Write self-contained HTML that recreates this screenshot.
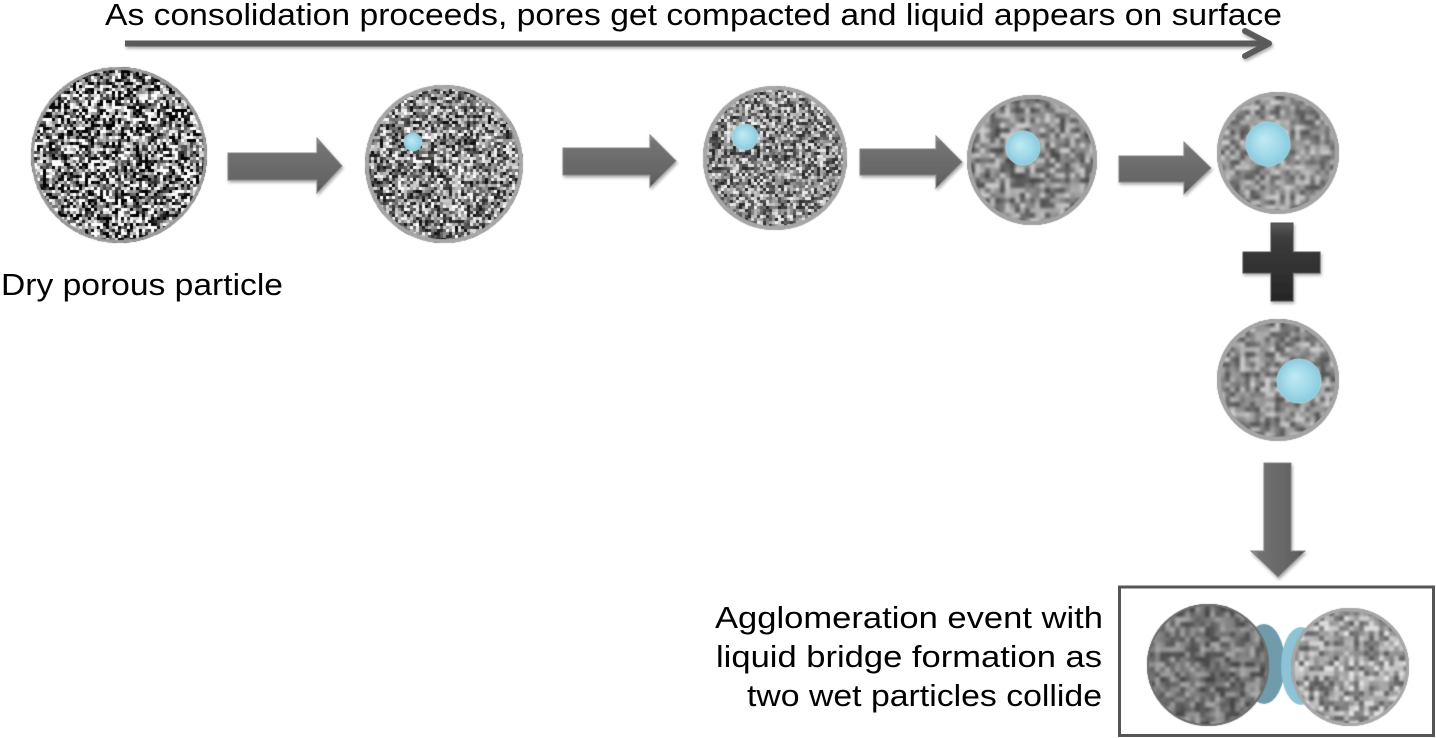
<!DOCTYPE html>
<html>
<head>
<meta charset="utf-8">
<style>
  html, body { margin:0; padding:0; background:#ffffff; }
  #wrap { position:relative; width:1436px; height:738px; overflow:hidden; background:#fff; }
  canvas, svg { position:absolute; left:0; top:0; }
  text { font-family:"Liberation Sans", Arial, sans-serif; fill:#000; }
</style>
</head>
<body>
<div id="wrap">
<canvas id="c" width="1436" height="738"></canvas>
<svg width="1436" height="738" viewBox="0 0 1436 738" xmlns="http://www.w3.org/2000/svg">
  <defs>
    <linearGradient id="ga" x1="0" y1="0" x2="0" y2="1">
      <stop offset="0" stop-color="#a2a2a2"/>
      <stop offset="0.12" stop-color="#747474"/>
      <stop offset="0.85" stop-color="#636363"/>
      <stop offset="1" stop-color="#454545"/>
    </linearGradient>
    <linearGradient id="gd" x1="0" y1="0" x2="1" y2="0">
      <stop offset="0" stop-color="#9a9a9a"/>
      <stop offset="0.15" stop-color="#727272"/>
      <stop offset="0.85" stop-color="#616161"/>
      <stop offset="1" stop-color="#444"/>
    </linearGradient>
    <linearGradient id="gp" x1="0" y1="0" x2="0" y2="1">
      <stop offset="0" stop-color="#5a5a5a"/>
      <stop offset="0.2" stop-color="#3c3c3c"/>
      <stop offset="1" stop-color="#262626"/>
    </linearGradient>
    <filter id="sh" x="-10%" y="-20%" width="130%" height="160%">
      <feDropShadow dx="1" dy="2" stdDeviation="1.5" flood-color="#000" flood-opacity="0.35"/>
    </filter>
  </defs>

  <!-- top long arrow -->
  <g filter="url(#sh)" stroke="#5a5a5a" fill="none">
    <line x1="125" y1="43.5" x2="1266" y2="43.5" stroke-width="6"/>
    <polyline points="1245,31 1269,43.5 1245,56" stroke-width="6" stroke-linecap="round" stroke-linejoin="round"/>
  </g>

  <!-- block arrows -->
  <g filter="url(#sh)" stroke="#8a8a8a" stroke-width="1">
    <polygon fill="url(#ga)" points="228,153 317,153 317,138 342,166 317,193 317,180 228,180"/>
    <polygon fill="url(#ga)" points="563,148 650,148 650,135 676,161 650,187 650,175 563,175"/>
    <polygon fill="url(#ga)" points="860,149 936,149 936,136 962,162 936,188 936,175 860,175"/>
    <polygon fill="url(#ga)" points="1119,156 1184,156 1184,142 1211,168 1184,194 1184,182 1119,182"/>
    <polygon fill="url(#gd)" points="1264,463 1291,463 1291,551 1305,551 1278,577 1251,551 1264,551"/>
  </g>

  <!-- plus -->
  <g filter="url(#sh)">
    <polygon fill="url(#gp)" stroke="#555" stroke-width="1"
      points="1271,223 1293,223 1293,252 1320,252 1320,273 1293,273 1293,301 1271,301 1271,273 1243,273 1243,252 1271,252"/>
  </g>

  <!-- box -->
  <rect x="1119.5" y="587" width="314" height="148.5" fill="none" stroke="#555" stroke-width="3"/>

  <!-- text -->
  <text x="105" y="25" font-size="31" textLength="1177" lengthAdjust="spacingAndGlyphs">As consolidation proceeds, pores get compacted and liquid appears on surface</text>
  <text x="1" y="295" font-size="31" textLength="282" lengthAdjust="spacingAndGlyphs">Dry porous particle</text>
  <text x="715" y="628" font-size="31" textLength="388" lengthAdjust="spacingAndGlyphs">Agglomeration event with</text>
  <text x="716" y="667" font-size="31" textLength="386" lengthAdjust="spacingAndGlyphs">liquid bridge formation as</text>
  <text x="747" y="706" font-size="31" textLength="355" lengthAdjust="spacingAndGlyphs">two wet particles collide</text>
</svg>
</div>
<script>
(function(){
  var cv = document.getElementById('c');
  var ctx = cv.getContext('2d');
  ctx.fillStyle = '#fff';
  ctx.fillRect(0,0,1436,738);

  function rng(seed){
    return function(){
      seed |= 0; seed = seed + 0x6D2B79F5 | 0;
      var t = Math.imul(seed ^ seed >>> 15, 1 | seed);
      t = t + Math.imul(t ^ t >>> 7, 61 | t) ^ t;
      return ((t ^ t >>> 14) >>> 0) / 4294967296;
    };
  }

  function particle(cx, cy, r, o){
    var R = rng(o.seed);
    var m = 12;
    var S = Math.ceil(2*r + 2*m);
    var off = document.createElement('canvas');
    off.width = S; off.height = S;
    var oc = off.getContext('2d');
    for (var y = 0; y < S; y += o.b){
      for (var x = 0; x < S; x += o.b){
        var v = o.mean + (R() - 0.5) * 2 * o.amp;
        v = Math.max(0, Math.min(255, Math.round(v)));
        oc.fillStyle = 'rgb(' + v + ',' + v + ',' + v + ')';
        oc.fillRect(x, y, o.b, o.b);
      }
    }
    ctx.save();
    ctx.beginPath();
    ctx.arc(cx, cy, r, 0, Math.PI*2);
    ctx.clip();
    ctx.fillStyle = 'rgb(' + o.mean + ',' + o.mean + ',' + o.mean + ')';
    ctx.fillRect(cx - r - 2, cy - r - 2, 2*r + 4, 2*r + 4);
    if (o.blur) ctx.filter = 'blur(' + o.blur + 'px)';
    ctx.drawImage(off, cx - r - m, cy - r - m);
    ctx.filter = 'none';
    ctx.restore();
    ctx.beginPath();
    ctx.arc(cx, cy, r - o.bw/2, 0, Math.PI*2);
    ctx.lineWidth = o.bw;
    ctx.strokeStyle = o.bc;
    ctx.stroke();
  }

  function drop(cx, cy, r){
    var g = ctx.createRadialGradient(cx - r*0.2, cy - r*0.2, r*0.1, cx, cy, r);
    g.addColorStop(0, '#bce8f2');
    g.addColorStop(0.6, '#a0d9e9');
    g.addColorStop(1, '#8acbdd');
    ctx.beginPath();
    ctx.arc(cx, cy, r, 0, Math.PI*2);
    ctx.fillStyle = g;
    ctx.fill();
    ctx.lineWidth = 1;
    ctx.strokeStyle = '#a6dbe9';
    ctx.stroke();
  }

  // main row
  particle(119, 155, 88, {seed: 11, b: 3, mean: 128, amp: 185, blur: 0, bw: 3, bc: '#9a9a9a'});
  particle(444, 164, 79, {seed: 22, b: 3, mean: 135, amp: 125, blur: 0.5, bw: 4, bc: '#a6a6a6'});
  particle(775, 158, 72, {seed: 33, b: 3, mean: 138, amp: 105, blur: 0.7, bw: 4, bc: '#a6a6a6'});
  particle(1032, 160, 65, {seed: 44, b: 5, mean: 140, amp: 70, blur: 1.5, bw: 4, bc: '#a2a2a2'});
  particle(1278, 153, 61, {seed: 55, b: 5, mean: 145, amp: 65, blur: 1.5, bw: 4, bc: '#a4a4a4'});
  particle(1278, 380, 61, {seed: 66, b: 5, mean: 145, amp: 65, blur: 1.5, bw: 4, bc: '#a4a4a4'});

  drop(413, 142, 9);
  drop(745, 137, 13);
  drop(1023, 148, 17);
  drop(1268, 144, 22);
  drop(1299, 381, 22);

  // agglomeration box
  ctx.beginPath();
  ctx.ellipse(1264, 664, 21, 40, 0, 0, Math.PI*2);
  ctx.fillStyle = '#6f9bab';
  ctx.fill();
  ctx.beginPath();
  ctx.ellipse(1301, 666, 20, 39, 0, 0, Math.PI*2);
  ctx.fillStyle = '#8cc3d6';
  ctx.fill();
  particle(1208, 665, 61, {seed: 77, b: 5, mean: 118, amp: 55, blur: 1.5, bw: 2, bc: '#6e6e6e'});
  particle(1350, 667, 59, {seed: 88, b: 5, mean: 160, amp: 70, blur: 1.2, bw: 3, bc: '#a8a8a8'});
})();
</script>
</body>
</html>
